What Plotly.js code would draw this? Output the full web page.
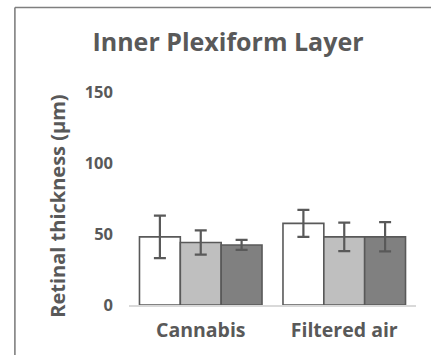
<!DOCTYPE html>
<html>
<head>
<meta charset="utf-8">
<script src="https://cdn.plot.ly/plotly-3.0.1.min.js"></script>
<style>
  html, body { margin: 0; padding: 0; background: #fff; }
  #chart { width: 431px; height: 355px; }
</style>
</head>
<body>
<div id="chart"></div>
<script>
// Retinal thickness of the inner plexiform layer by exposure group
const categories = ['Cannabis', 'Filtered air'];
const seriesA = [48, 57.5];
const seriesAErr = [15, 9.5];
const seriesB = [44, 48];
const seriesBErr = [8.5, 10];
const seriesC = [42.3, 48];
const seriesCErr = [3.5, 10.3];
const yTicks = [0, 50, 100, 150];

const W = 431, H = 355;
const M = { l: 128.5, r: 14.5, t: 92, b: 50 };
const plotW = W - M.l - M.r, plotH = H - M.t - M.b;
const fontFam = '"Open Sans", Lato, sans-serif';
const ink = '#595959';

function barTrace(y, err, fill) {
  return {
    type: 'bar', x: categories, y: y,
    marker: { color: fill, line: { color: ink, width: 1.6 } },
    error_y: { type: 'data', array: err, visible: true, color: ink, thickness: 2.2, width: 6 },
    hoverinfo: 'skip'
  };
}

const data = [
  barTrace(seriesA, seriesAErr, '#ffffff'),
  barTrace(seriesB, seriesBErr, '#bfbfbf'),
  barTrace(seriesC, seriesCErr, '#808080')
];

// pixel position -> paper fraction
const fx = (px) => (px - M.l) / plotW;
const fy = (py) => (H - M.b - py) / plotH;
const frame = { color: '#7f7f7f', width: 1.6 };

const layout = {
  width: W, height: H,
  margin: M,
  paper_bgcolor: '#ffffff', plot_bgcolor: '#ffffff',
  showlegend: false,
  barmode: 'group', bargap: 0.146, bargroupgap: 0,
  font: { family: fontFam, color: ink },
  title: {
    text: '<b>Inner Plexiform Layer</b>',
    font: { family: fontFam, size: 25, color: ink },
    x: 228 / W, xanchor: 'center', y: 1 - 42 / H, yanchor: 'middle'
  },
  xaxis: {
    type: 'category', range: [-0.5, 1.5],
    showgrid: false, zeroline: false, ticks: '',
    showline: true, linecolor: '#d9d9d9', linewidth: 1.5,
    tickfont: { family: fontFam, size: 19.5, color: ink },
    ticklabelstandoff: 7,
    tickvals: categories, ticktext: categories.map(c => '<b>' + c + '</b>')
  },
  yaxis: {
    range: [0, 150], tickvals: yTicks, ticktext: yTicks.map(v => '<b>' + v + '</b>'),
    showgrid: false, zeroline: false, showline: false, ticks: '',
    tickfont: { family: fontFam, size: 16.5, color: ink },
    ticklabelstandoff: 15
  },
  annotations: [
    {
      // y-axis title
      text: '<b>Retinal thickness (µm)</b>', textangle: -90,
      xref: 'paper', yref: 'paper', x: fx(56), y: fy(206),
      xanchor: 'center', yanchor: 'middle', showarrow: false,
      font: { family: fontFam, size: 20, color: ink }
    }
  ],
  shapes: [
    // frame lines along the top and left edge of the chart area
    { type: 'line', xref: 'paper', yref: 'paper', x0: fx(14), x1: fx(W + 5), y0: fy(7.5), y1: fy(7.5), line: frame },
    { type: 'line', xref: 'paper', yref: 'paper', x0: fx(14), x1: fx(14), y0: fy(7.5), y1: fy(H + 5), line: frame }
  ]
};

Plotly.newPlot('chart', data, layout, { displayModeBar: false, staticPlot: true });
</script>
</body>
</html>
